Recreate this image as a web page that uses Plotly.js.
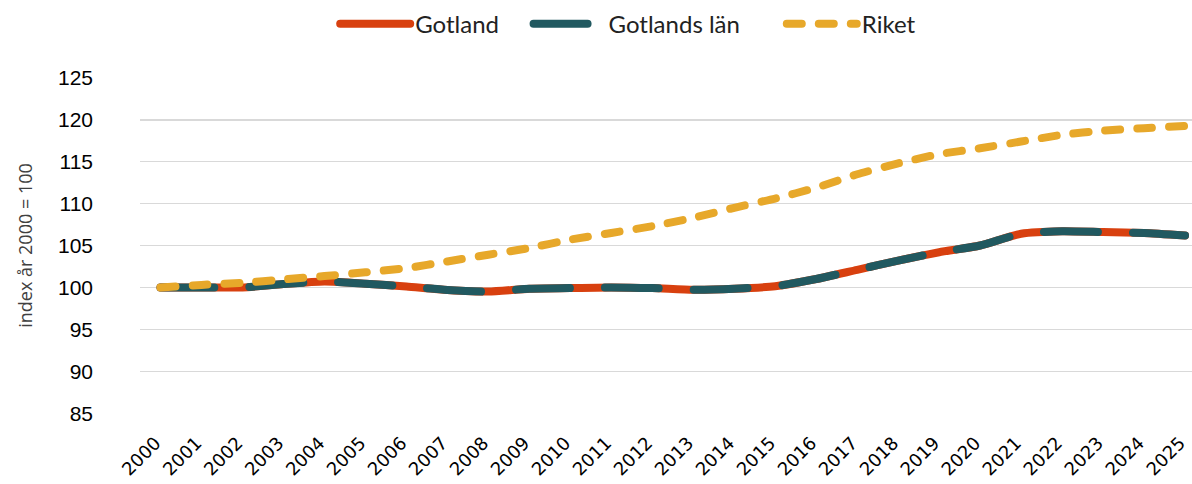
<!DOCTYPE html>
<html>
<head>
<meta charset="utf-8">
<script src="https://cdn.plot.ly/plotly-3.0.1.min.js"></script>
<style>
  body { margin: 0; background: #fff; }
  #chart { width: 1192px; height: 484px; }
  .js-line { stroke-linecap: round !important; stroke-linejoin: round !important; }
</style>
</head>
<body>
<div id="chart"></div>
<script>
// index, year 2000 = 100
var years = ["2000","2001","2002","2003","2004","2005","2006","2007","2008","2009",
  "2010","2011","2012","2013","2014","2015","2016","2017","2018","2019",
  "2020","2021","2022","2023","2024","2025"];

var gotland = [100.0, 100.0, 100.0, 100.4, 100.7, 100.45, 100.1, 99.7, 99.5, 99.85,
  99.92, 100.0, 99.92, 99.72, 99.84, 100.15, 101.0, 102.1, 103.2, 104.2,
  105.0, 106.4, 106.7, 106.6, 106.5, 106.2];

var gotlandsLan = [100.0, 100.0, 100.0, 100.4, 100.7, 100.45, 100.1, 99.7, 99.5, 99.85,
  99.92, 100.0, 99.92, 99.72, 99.84, 100.15, 101.0, 102.1, 103.2, 104.2,
  105.0, 106.4, 106.7, 106.6, 106.5, 106.2];

var riket = [100.0, 100.3, 100.55, 100.95, 101.35, 101.8, 102.3, 103.1, 103.9, 104.7,
  105.7, 106.5, 107.3, 108.3, 109.5, 110.6, 111.9, 113.5, 114.8, 115.9,
  116.6, 117.4, 118.2, 118.7, 119.0, 119.25];

var red = "#D8400F";
var teal = "#215960";
var gold = "#E7A82A";
var pad = "\u00a0\u00a0\u00a0\u00a0";

var trace1 = {
  x: years, y: gotland, name: "Gotland" + pad, type: "scatter", mode: "lines",
  line: {color: red, width: 8, shape: "spline", smoothing: 0.6}
};
var trace2 = {
  x: years, y: gotlandsLan, name: "Gotlands län" + pad + "\u00a0\u00a0", type: "scatter", mode: "lines",
  line: {color: teal, width: 8, shape: "spline", smoothing: 0.6, dash: "54px,35px"}
};
var trace3 = {
  x: years, y: riket, name: "Riket", type: "scatter", mode: "lines",
  line: {color: gold, width: 8, shape: "spline", smoothing: 0.6, dash: "15px,17px"}
};

var data = [trace1, trace2, trace3];

var layout = {
  width: 1192,
  height: 484,
  margin: {l: 140, r: 0, t: 77, b: 70},
  paper_bgcolor: "#fff",
  plot_bgcolor: "#fff",
  showlegend: true,
  legend: {
    orientation: "h",
    xref: "container", yref: "container",
    x: 0.527, xanchor: "center",
    y: 0.95, yanchor: "middle",
    itemwidth: 70,
    font: {family: "Lato, sans-serif", size: 24, color: "#222"}
  },
  xaxis: {
    type: "category",
    range: [-0.5, 25.17],
    tickangle: -45,
    ticklabelshift: -5,
    ticklabelstandoff: 14,
    showgrid: false,
    zeroline: false,
    showline: false,
    ticks: "",
    tickfont: {family: "DejaVu Sans, sans-serif", size: 18, color: "#000"}
  },
  yaxis: {
    range: [84.9, 125.1],
    tickvals: [85, 90, 95, 100, 105, 110, 115, 120, 125],
    gridcolor: "#d9d9d9",
    gridwidth: 1.5,
    zeroline: false,
    showline: false,
    ticks: "",
    ticklabelstandoff: 46,
    tickfont: {family: "Liberation Sans, Arial, sans-serif", size: 21, color: "#000"},
    title: {
      text: "index år 2000 = 100",
      standoff: 20,
      font: {family: "Open Sans, sans-serif", size: 18, color: "#404040"}
    }
  }
};

Plotly.newPlot("chart", data, layout, {displayModeBar: false, staticPlot: true});
</script>
</body>
</html>
